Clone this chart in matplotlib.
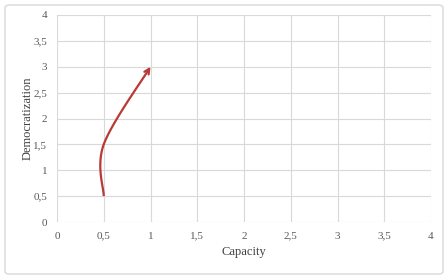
import numpy as np
import matplotlib.pyplot as plt
from matplotlib.patches import FancyBboxPatch
from matplotlib.ticker import FuncFormatter

# data points (Excel smoothed scatter line)
capacity = [0.5, 0.5, 1.0]
democratization = [0.5, 1.5, 3.0]
ticks = [0, 0.5, 1, 1.5, 2, 2.5, 3, 3.5, 4]


def smooth(xs, ys, n=60):
    # Catmull-Rom style bezier like Excel's smoothed line
    pts = np.column_stack([xs, ys])
    out = []
    for i in range(len(pts) - 1):
        p0 = pts[max(i - 1, 0)]
        p1 = pts[i]
        p2 = pts[i + 1]
        p3 = pts[min(i + 2, len(pts) - 1)]
        c1 = p1 + (p2 - p0) / 6
        c2 = p2 - (p3 - p1) / 6
        t = np.linspace(0, 1, n)[:, None]
        seg = ((1 - t) ** 3) * p1 + 3 * ((1 - t) ** 2) * t * c1 + 3 * (1 - t) * t ** 2 * c2 + t ** 3 * p2
        out.append(seg if i == 0 else seg[1:])
    out = np.vstack(out)
    return out[:, 0], out[:, 1]


plt.rcParams['font.family'] = ['Liberation Serif', 'DejaVu Serif']

fig = plt.figure(figsize=(4.48, 2.79), dpi=100)
box = FancyBboxPatch((5 / 448, 5 / 279), 438 / 448, 269 / 279,
                     boxstyle="round,pad=0,rounding_size=0.01",
                     transform=fig.transFigure, facecolor='white',
                     edgecolor='#d9d9d9', linewidth=1.0, zorder=-5)
fig.add_artist(box)
ax = fig.add_axes([57 / 448, 1 - 222 / 279, 374 / 448, 207 / 279])
ax.set_facecolor('none')
ax.set_zorder(2)

sx, sy = smooth(capacity, democratization)
red = '#b83a36'
ax.plot(sx[:-3], sy[:-3], color=red, lw=1.6, solid_capstyle='butt', zorder=3)
ax.annotate('', xy=(sx[-1], sy[-1]), xytext=(sx[-6], sy[-6]),
            arrowprops=dict(arrowstyle='->', color=red, lw=1.6,
                            mutation_scale=9, shrinkA=0, shrinkB=0), zorder=3)

ax.set_xlim(0, 4)
ax.set_ylim(0, 4)
ax.set_xticks(ticks)
ax.set_yticks(ticks)
fmt = FuncFormatter(lambda v, p: ('%g' % v).replace('.', ','))
ax.xaxis.set_major_formatter(fmt)
ax.yaxis.set_major_formatter(fmt)
ax.grid(True, color='#d9d9d9', lw=0.8)
ax.set_axisbelow(True)
for s in ax.spines.values():
    s.set_visible(False)
ax.tick_params(length=0, labelsize=8, colors='#595959', pad=7)
ax.tick_params(axis='x', pad=7)

ax.set_xlabel('Capacity', fontsize=9, color='#404040', labelpad=4)
ax.set_ylabel('Democratization', fontsize=9, color='#404040', labelpad=0)

fig.savefig('out.png', dpi=100)
